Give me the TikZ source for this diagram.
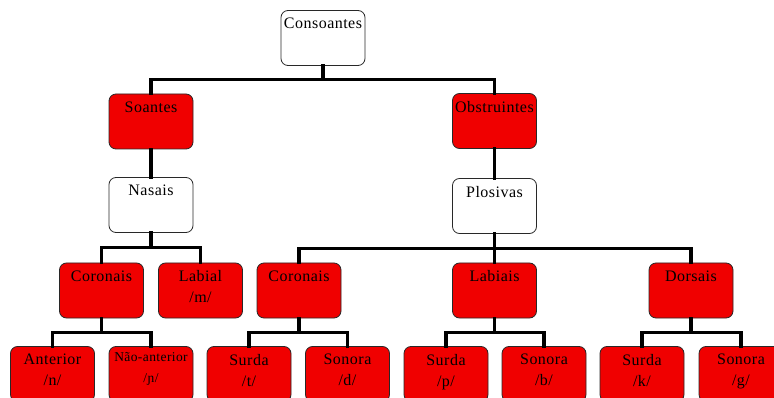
\documentclass[tikz,border=0pt]{standalone}
\usepackage{fontspec}
\setmainfont{Liberation Serif}[LetterSpace=3]
\usetikzlibrary{calc}
\definecolor{boxred}{RGB}{240,0,0}
\definecolor{boxline}{RGB}{40,40,40}
\tikzset{
  box/.style={rectangle, rounded corners=7pt, draw=boxline, line width=0.8pt,
    minimum width=84pt, minimum height=55pt, inner sep=0pt},
  redbox/.style={box, fill=boxred},
  whitebox/.style={box, fill=white},
  caption/.style={label={[anchor=north, yshift=-8pt, inner sep=0pt, align=center,
    font=\fontsize{16}{21}\selectfont]north:#1}},
  smallcaption/.style={label={[anchor=north, yshift=-6.5pt, inner sep=0pt, align=center,
    font=\fontsize{13.5}{21}\selectfont]north:#1}},
  link/.style={line width=3.3pt, line join=miter, line cap=rect},
  elbow/.style={to path={-- ($(\tikztostart)!.5!(\tikztostart|-\tikztotarget)$) -| (\tikztotarget)}}
}
\begin{document}
\begin{tikzpicture}[x=1pt, y=-1pt]
  \useasboundingbox (0,0) rectangle (774,398);
  \clip (0,0) rectangle (774,398);

  % level 0 and 1
  \node[whitebox, caption=Consoantes] (cons) at (323,38) {};
  \node[redbox, caption=Soantes] (soa) at (151,121.5) {};
  \node[redbox, caption=Obstruintes] (obs) at (494.5,121) {};

  % level 2
  \node[whitebox, caption=Nasais] (nas) at (151,205) {};
  \node[whitebox, caption=Plosivas] (plo) at (494.5,206) {};

  % level 3
  \node[redbox, caption=Coronais] (corL) at (101.5,290.5) {};
  \node[redbox, caption={Labial\\/m/}] (lab) at (200.5,290.5) {};
  \node[redbox, caption=Coronais] (corR) at (299,290.5) {};
  \node[redbox, caption=Labiais] (labs) at (494.5,290.5) {};
  \node[redbox, caption=Dorsais] (dor) at (691,290.5) {};

  % level 4
  \node[redbox, caption={Anterior\\/n/}] (ant) at (52.5,374) {};
  \node[redbox, smallcaption={Não-anterior\\/ɲ/}] (nant) at (151,374) {};
  \node[redbox, caption={Surda\\/t/}] (st) at (249,374) {};
  \node[redbox, caption={Sonora\\/d/}] (sd) at (347.5,374) {};
  \node[redbox, caption={Surda\\/p/}] (sp) at (446,374) {};
  \node[redbox, caption={Sonora\\/b/}] (sb) at (544,374) {};
  \node[redbox, caption={Surda\\/k/}] (sk) at (642,374) {};
  \node[redbox, caption={Sonora\\/g/}] (sg) at (741,374) {};

  % tree connectors: down, across, down
  \begin{scope}[link]
    \draw (cons.south) to[elbow] (soa.north);
    \draw (cons.south) to[elbow] (obs.north);
    \draw (soa.south) -- (nas.north);
    \draw (obs.south) -- (plo.north);
    \draw (nas.south) to[elbow] (corL.north);
    \draw (nas.south) to[elbow] (lab.north);
    \draw (plo.south) to[elbow] (corR.north);
    \draw (plo.south) to[elbow] (labs.north);
    \draw (plo.south) to[elbow] (dor.north);
    \draw (corL.south) to[elbow] (ant.north);
    \draw (corL.south) to[elbow] (nant.north);
    \draw (corR.south) to[elbow] (st.north);
    \draw (corR.south) to[elbow] (sd.north);
    \draw (labs.south) to[elbow] (sp.north);
    \draw (labs.south) to[elbow] (sb.north);
    \draw (dor.south) to[elbow] (sk.north);
    \draw (dor.south) to[elbow] (sg.north);
  \end{scope}
\end{tikzpicture}
\end{document}
